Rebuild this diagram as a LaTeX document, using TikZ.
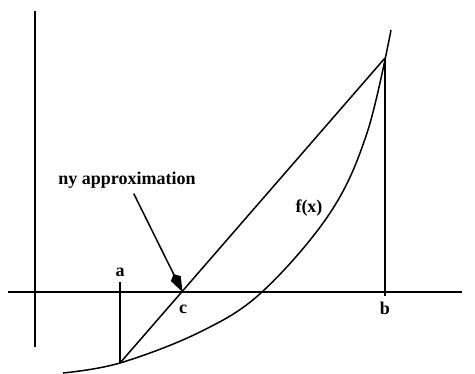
\documentclass[tikz,border=0pt]{standalone}
\usepackage{fontspec}
\setmainfont{Liberation Serif}
\usepackage{tikz}
\usetikzlibrary{arrows.meta}

\begin{document}
\begin{tikzpicture}[x=1pt,y=-1pt,line width=1.5pt,
  lbl/.style={font=\fontsize{18}{20}\selectfont\bfseries,inner sep=2pt}]
\useasboundingbox (0,0) rectangle (475,374);
\draw (35,11) -- (35,347);
\draw (8,292) -- (462,292);
\coordinate (fa) at (120,363);
\coordinate (fb) at (385,58);
\coordinate (c) at (182.5,292);
\coordinate (atop) at (120,282);
\coordinate (bbot) at (385,296);
\draw plot[smooth,tension=0.6] coordinates {(63,373) (120,363) (200,332) (262,292) (330,213) (367,133) (391,30)};
\draw (fa) -- (fb);
\draw (fa) -- (atop);
\draw (fb) -- (bbot);
\node[lbl] (la) at (120,272) {a};
\node[lbl] (lb) at (385,308) {b};
\node[lbl] (lc) at (183,309) {c};
\node[lbl] (lf) at (309,208) {f(x)};
\node[lbl] (approx) at (127,180) {ny approximation};
\draw[-{Kite[length=20pt,width=11pt,inset=5pt]},shorten <=3pt] (approx) -- (c);
\end{tikzpicture}
\end{document}
